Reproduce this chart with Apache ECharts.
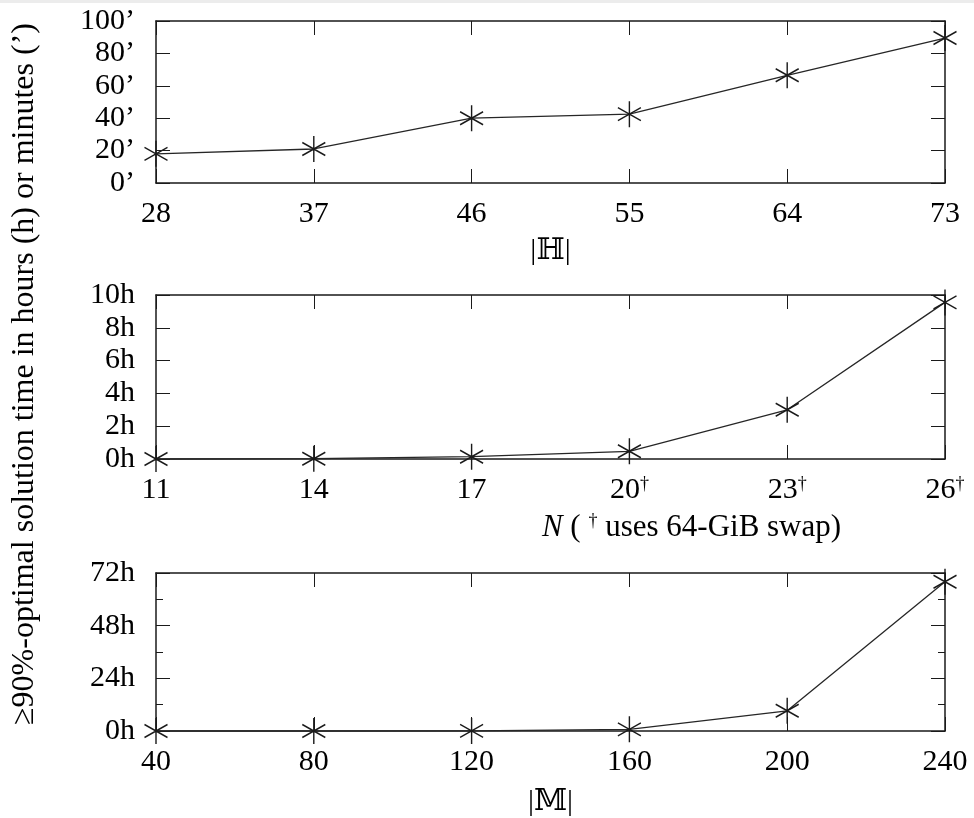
<!DOCTYPE html>
<html>
<head>
<meta charset="utf-8">
<script src="https://cdn.jsdelivr.net/npm/echarts@6/dist/echarts.min.js"></script>
<style>
html,body{margin:0;padding:0;background:#fff;}
#chart{width:974px;height:818px;}
</style>
</head>
<body>
<div id="chart"></div>
<script>
// ---- data ----
const hCats = ['28', '37', '46', '55', '64', '73'];
const hMinutes = [18, 21, 40, 42.5, 66.5, 89.5];
const hTicks = [0, 20, 40, 60, 80, 100];

const nCats = ['11', '14', '17', '20†', '23†', '26†'];
const nHours = [0, 0.02, 0.14, 0.47, 3.0, 9.55];
const nTicks = [0, 2, 4, 6, 8, 10];

const mCats = ['40', '80', '120', '160', '200', '240'];
const mHours = [0, 0, 0.05, 0.75, 9.2, 68];
const mTicks = [0, 24, 48, 72];

const yTitle = '≥90%-optimal solution time in hours (h) or minutes (’)';

// ---- styles ----
const FONT = '"Liberation Serif", "DejaVu Serif", serif';
const INK = '#1a1a1a';
const STAR = 'path://M0,-1L0,1M-0.866,-0.5L0.866,0.5M-0.866,0.5L0.866,-0.5';

const grids = [
  {left: 156, right: 29, top: 21, height: 162},
  {left: 156, right: 29, top: 295, height: 164},
  {left: 156, right: 29, top: 573, height: 160}
];

function xAxes(gi, cats, name, extra) {
  const bottom = Object.assign({
    type: 'category', gridIndex: gi, data: cats, boundaryGap: false, position: 'bottom',
    axisLine: {show: true, onZero: false, lineStyle: {color: INK, width: 1.5}},
    axisTick: {show: true, inside: true, length: 14, interval: 0, alignWithLabel: true, lineStyle: {color: INK, width: 1}},
    axisLabel: {
      color: '#000', fontFamily: FONT, fontSize: 30, margin: 16, interval: 0, hideOverlap: false,
      formatter: v => v.indexOf('†') >= 0 ? v.replace('†', '') + '{sup|†}' : v,
      rich: {sup: {fontFamily: FONT, fontSize: 18, color: '#000', verticalAlign: 'top', padding: [0, 0, 12, 0]}}
    },
    splitLine: {show: false},
    name: name, nameLocation: 'middle',
    nameTextStyle: {color: '#000', fontFamily: FONT, fontSize: 30}
  }, extra || {});
  const top = {
    type: 'category', gridIndex: gi, data: cats, boundaryGap: false, position: 'top',
    axisLine: {show: true, onZero: false, lineStyle: {color: INK, width: 1.5}},
    axisTick: {show: true, inside: true, length: 14, interval: 0, alignWithLabel: true, lineStyle: {color: INK, width: 1}},
    axisLabel: {show: false}, splitLine: {show: false}
  };
  return [bottom, top];
}

function yAxes(gi, ticks, unit, minor) {
  const min = ticks[0], max = ticks[ticks.length - 1], interval = ticks[1] - ticks[0];
  const common = {
    type: 'value', gridIndex: gi, min: min, max: max, interval: interval,
    axisLine: {show: true, onZero: false, lineStyle: {color: INK, width: 1.5}},
    axisTick: {show: true, inside: true, length: 14, lineStyle: {color: INK, width: 1}},
    minorTick: minor ? {show: true, splitNumber: minor, length: 7, lineStyle: {color: INK, width: 1}} : {show: false},
    splitLine: {show: false}, minorSplitLine: {show: false}
  };
  const left = Object.assign({}, common, {
    position: 'left',
    axisLabel: {color: '#000', fontFamily: FONT, fontSize: 30, margin: 21, formatter: v => v + unit}
  });
  const right = Object.assign({}, common, {position: 'right', axisLabel: {show: false}});
  return [left, right];
}

function lineSeries(xi, yi, data) {
  return {
    type: 'line', xAxisIndex: xi, yAxisIndex: yi, data: data,
    clip: false, showAllSymbol: true,
    symbol: STAR, symbolSize: [23, 26],
    lineStyle: {color: '#262626', width: 1.3},
    itemStyle: {color: 'rgba(0,0,0,0)', borderColor: '#1a1a1a', borderWidth: 1.5},
    emphasis: {disabled: true},
    animation: false
  };
}

const xA = [].concat(
  xAxes(0, hCats, '|ℍ|', {nameGap: 53}),
  xAxes(1, nCats, '{i|N} ( {sup|†} uses 64-GiB swap)', {
    nameGap: 53,
    nameTextStyle: {
      color: '#000', fontFamily: FONT, fontSize: 31, padding: [0, 0, 0, 282],
      rich: {
        i: {fontFamily: FONT, fontSize: 31, fontStyle: 'italic', color: '#000'},
        sup: {fontFamily: FONT, fontSize: 18, color: '#000', verticalAlign: 'top', padding: [0, 0, 12, 0]}
      }
    }
  }),
  xAxes(2, mCats, '|𝕄|', {nameGap: 56})
);

const yA = [].concat(
  yAxes(0, hTicks, '’', 0),
  yAxes(1, nTicks, 'h', 0),
  yAxes(2, mTicks, 'h', 2)
);

const chart = echarts.init(document.getElementById('chart'), null, {renderer: 'canvas'});
chart.setOption({
  animation: false,
  backgroundColor: '#fff',
  grid: grids,
  xAxis: xA,
  yAxis: yA,
  series: [
    lineSeries(0, 0, hMinutes),
    lineSeries(2, 2, nHours),
    lineSeries(4, 4, mHours)
  ],
  graphic: [
    {type: 'rect', left: 0, top: 0, shape: {width: 974, height: 3}, style: {fill: '#ececec'}, silent: true},
    {
      type: 'text', x: 25, y: 374, rotation: Math.PI / 2,
      style: {text: yTitle, fontFamily: FONT, fontSize: 32, fill: '#000', textAlign: 'center', textVerticalAlign: 'middle'}
    }
  ]
});
</script>
</body>
</html>
